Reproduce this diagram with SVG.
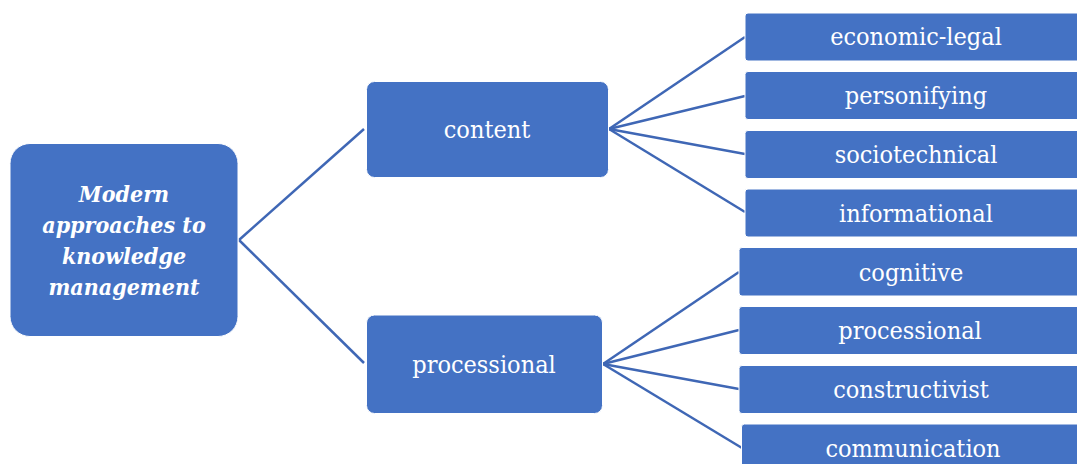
<svg xmlns="http://www.w3.org/2000/svg" width="1077" height="464" viewBox="0 0 1077 464">
  <style>
    .box { fill: #4472C4; stroke: #FFFFFF; stroke-width: 1; }
    .lbl { fill: #FFFFFF; font-family: 'DejaVu Serif', serif; font-stretch: condensed; font-size: 25px; text-anchor: middle; }
    .root { font-weight: bold; font-style: italic; font-size: 23px; }
    .link { stroke: #3F67B5; stroke-width: 2.5; fill: none; }
  </style>
  <rect width="1077" height="464" fill="#FFFFFF"/>

  <!-- connectors -->
  <g id="connectors">
    <line class="link" x1="239" y1="240" x2="364" y2="129"/>
    <line class="link" x1="239" y1="240" x2="364" y2="363"/>
    <line class="link" x1="609" y1="129" x2="745" y2="37"/>
    <line class="link" x1="609" y1="129" x2="745" y2="96"/>
    <line class="link" x1="609" y1="129" x2="745" y2="154"/>
    <line class="link" x1="609" y1="129" x2="745" y2="212"/>
    <line class="link" x1="603" y1="364" x2="739" y2="272"/>
    <line class="link" x1="603" y1="364" x2="739" y2="330"/>
    <line class="link" x1="603" y1="364" x2="739" y2="389"/>
    <line class="link" x1="603" y1="364" x2="742" y2="448"/>
  </g>

  <!-- root -->
  <g id="node-root">
    <rect class="box" x="10" y="143.5" width="228" height="193" rx="20"/>
    <text class="lbl root" x="124" y="202">Modern</text>
    <text class="lbl root" x="124" y="233">approaches to</text>
    <text class="lbl root" x="124" y="264">knowledge</text>
    <text class="lbl root" x="124" y="295">management</text>
  </g>

  <!-- second level -->
  <g id="node-content">
    <rect class="box" x="366.5" y="81.5" width="242" height="96" rx="8"/>
    <text class="lbl" x="487" y="138">content</text>
  </g>
  <g id="node-processional">
    <rect class="box" x="366.5" y="315" width="236" height="98.5" rx="8"/>
    <text class="lbl" x="484" y="373">processional</text>
  </g>

  <!-- content approaches -->
  <g id="node-economic-legal">
    <rect class="box" x="745" y="13" width="345" height="48" rx="3"/>
    <text class="lbl" x="916" y="45">economic-legal</text>
  </g>
  <g id="node-personifying">
    <rect class="box" x="745" y="71.5" width="345" height="48" rx="3"/>
    <text class="lbl" x="916" y="104">personifying</text>
  </g>
  <g id="node-sociotechnical">
    <rect class="box" x="745" y="130.5" width="345" height="48" rx="3"/>
    <text class="lbl" x="916" y="163">sociotechnical</text>
  </g>
  <g id="node-informational">
    <rect class="box" x="745" y="189" width="345" height="48" rx="3"/>
    <text class="lbl" x="916" y="222">informational</text>
  </g>

  <!-- processional approaches -->
  <g id="node-cognitive">
    <rect class="box" x="739" y="247.5" width="350" height="48.5" rx="3"/>
    <text class="lbl" x="911" y="281">cognitive</text>
  </g>
  <g id="node-processional-2">
    <rect class="box" x="739" y="306.5" width="350" height="48" rx="3"/>
    <text class="lbl" x="910" y="339">processional</text>
  </g>
  <g id="node-constructivist">
    <rect class="box" x="739" y="365.5" width="350" height="48" rx="3"/>
    <text class="lbl" x="911" y="398">constructivist</text>
  </g>
  <g id="node-communication">
    <rect class="box" x="741.5" y="424" width="350" height="60" rx="3"/>
    <text class="lbl" x="913" y="457">communication</text>
  </g>
</svg>
